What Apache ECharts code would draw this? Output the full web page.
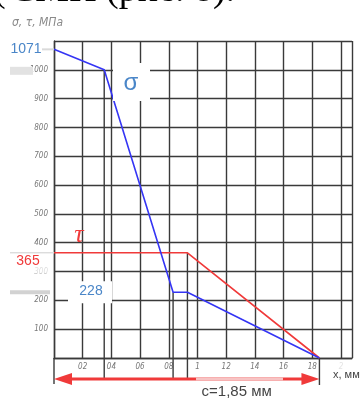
<!DOCTYPE html>
<html lang="ru">
<head>
<meta charset="UTF-8">
<title>σ, τ, МПа</title>
<style>body{margin:0;background:#fff;}</style>
</head>
<body>
<div id="main" style="width:363px;height:399px;"></div>
<script src="https://cdn.jsdelivr.net/npm/echarts@6/dist/echarts.min.js"></script>
<script>
// данные кривых
var sigmaX = [0, 0.35, 0.83, 0.93, 1.85];
var sigmaY = [1071, 1000, 228, 228, 0];
var tauX = [0, 0.93, 1.85];
var tauY = [365, 365, 0];
// подписи делений
var xTickValues = [0.2, 0.4, 0.6, 0.8, 1, 1.2, 1.4, 1.6, 1.8, 2];
var xTickLabels = ['02', '04', '06', '08', '1', '12', '14', '16', '18', '2'];
var yTickValues = [100, 200, 300, 400, 500, 600, 700, 800, 900, 1000];
// выноски
var dropX = [0.35, 0.83, 0.93, 1.85];
var dropY = [1000, 228, 365, 0];
var cLength = 1.85;

var gridColor = '#3a3a3a';
var blue = '#3535f4';
var red = '#f03a3a';
var labelBlue = '#4a86c8';

function pairs(xs, ys) {
    return xs.map(function (x, i) { return [x, ys[i]]; });
}

var myChart = echarts.init(document.getElementById('main'));

var option = {
    animation: false,
    grid: {left: 54, right: 11, top: 41, bottom: 41},
    xAxis: {
        type: 'value', min: 0, max: 2.077, interval: 0.2,
        axisLine: {show: true, lineStyle: {color: gridColor, width: 1.4}},
        axisTick: {show: false},
        splitLine: {show: true, lineStyle: {color: gridColor, width: 1.4}},
        axisLabel: {
            margin: 5, fontSize: 8, fontStyle: 'italic', color: '#777',
            fontFamily: '"Liberation Sans Narrow", "DejaVu Sans Condensed", sans-serif',
            showMaxLabel: false, showMinLabel: false,
            formatter: function (v) {
                var i = xTickValues.findIndex(function (t) { return Math.abs(t - v) < 1e-6; });
                if (i < 0) return '';
                if (xTickLabels[i] === '2') return '{f|2}';
                return xTickLabels[i];
            },
            rich: {f: {color: '#e4e4e4', fontSize: 8, fontStyle: 'italic'}}
        }
    },
    yAxis: {
        type: 'value', min: 0, max: 1100, interval: 100,
        axisLine: {show: true, lineStyle: {color: gridColor, width: 1.4}},
        axisTick: {show: false},
        splitLine: {show: true, lineStyle: {color: gridColor, width: 1.4}},
        axisLabel: {
            margin: 6, fontSize: 8, fontStyle: 'italic', color: '#777',
            fontFamily: '"Liberation Sans Narrow", "DejaVu Sans Condensed", sans-serif',
            formatter: function (v) {
                return yTickValues.indexOf(v) >= 0 ? String(v) : '';
            }
        }
    },
    series: [
        {
            name: 'σ', type: 'line', data: pairs(sigmaX, sigmaY),
            symbol: 'none', lineStyle: {color: blue, width: 1.6}, z: 5
        },
        {
            name: 'τ', type: 'line', data: pairs(tauX, tauY),
            symbol: 'none', lineStyle: {color: red, width: 1.6}, z: 4
        }
    ]
};

myChart.setOption(option);

// оформление поверх графика
function px(x, y) {
    return myChart.convertToPixel({gridIndex: 0}, [x, y]);
}
var g = [];
var x0 = px(0, 0);
var bottomY = 380;

// обрезанная строка текста сверху
g.push({type: 'text', left: -7, top: -28, z: 10,
    style: {text: '(', font: '38px "Liberation Serif"', fill: '#000'}});
g.push({type: 'text', left: 10, top: -28, z: 10,
    style: {text: 'СМП (рис. 8).', font: '38px "Liberation Serif"', fill: '#000'}});
g.push({type: 'text', left: 12, top: 17, z: 10,
    style: {text: 'σ, τ, МПа', font: 'italic 12px "Liberation Sans Narrow", "DejaVu Sans Condensed", sans-serif', fill: '#8a8a8a'}});

// вертикальные выноски
dropX.forEach(function (x, i) {
    var p = px(x, dropY[i]);
    g.push({type: 'line', z: 3, shape: {x1: p[0], y1: p[1], x2: p[0], y2: i === 3 ? 385 : bottomY},
        style: {stroke: gridColor, lineWidth: 1.4}});
});
g.push({type: 'line', z: 3, shape: {x1: x0[0], y1: x0[1], x2: x0[0], y2: bottomY + 4},
    style: {stroke: gridColor, lineWidth: 1.4}});

// 1071
var p1071 = px(0, sigmaY[0]);
g.push({type: 'line', z: 6, shape: {x1: 30, y1: p1071[1], x2: p1071[0], y2: p1071[1]},
    style: {stroke: '#dadada', lineWidth: 2}});
g.push({type: 'rect', z: 7, shape: {x: 0, y: p1071[1] - 8, width: 42, height: 15}, style: {fill: '#fff'}});
g.push({type: 'text', z: 8, x: 26, y: p1071[1], style: {text: String(sigmaY[0]), font: '14px Arial, sans-serif',
    fill: labelBlue, align: 'center', verticalAlign: 'middle'}});
// серая полоса у 1000
var p1000 = px(0, 1000);
g.push({type: 'rect', z: 6, shape: {x: 10, y: p1000[1] - 3, width: 23, height: 8}, style: {fill: '#e2e2e2'}});

// σ
g.push({type: 'rect', z: 7, shape: {x: 113, y: 63, width: 37, height: 38}, style: {fill: '#fff'}});
g.push({type: 'text', z: 8, x: 131, y: 83, style: {text: 'σ', font: '24px Arial, sans-serif',
    fill: labelBlue, align: 'center', verticalAlign: 'middle'}});

// τ
g.push({type: 'text', z: 8, x: 79, y: 235, style: {text: 'τ', font: 'italic 26px "Liberation Serif", serif',
    fill: red, align: 'center', verticalAlign: 'middle'}});

// 365
var p365 = px(0, tauY[0]);
g.push({type: 'line', z: 6, shape: {x1: 10, y1: p365[1], x2: p365[0], y2: p365[1]},
    style: {stroke: '#dcdcdc', lineWidth: 1.5}});
g.push({type: 'rect', z: 7, shape: {x: 10, y: p365[1] + 1, width: 43, height: 20}, style: {fill: 'rgba(255,255,255,0.75)'}});
g.push({type: 'text', z: 8, x: 28, y: p365[1] + 8, style: {text: String(tauY[0]), font: '14px Arial, sans-serif',
    fill: red, align: 'center', verticalAlign: 'middle'}});

// 228
var p228 = px(0, sigmaY[2]);
g.push({type: 'rect', z: 6, shape: {x: 10, y: p228[1] - 2, width: 40, height: 4}, style: {fill: '#d2d2d2'}});
g.push({type: 'rect', z: 7, shape: {x: 68, y: p228[1] - 11, width: 44, height: 22}, style: {fill: '#fff'}});
g.push({type: 'text', z: 8, x: 91, y: p228[1] - 1, style: {text: String(sigmaY[2]), font: '14px Arial, sans-serif',
    fill: labelBlue, align: 'center', verticalAlign: 'middle'}});

// стрелка c
var pc = px(cLength, 0);
var ay = 379;
g.push({type: 'line', z: 6, shape: {x1: x0[0] + 10, y1: ay, x2: pc[0] - 10, y2: ay},
    style: {stroke: red, lineWidth: 3}});
g.push({type: 'line', z: 6, shape: {x1: 196, y1: ay, x2: 283, y2: ay},
    style: {stroke: '#f7c4c4', lineWidth: 3}});
g.push({type: 'polygon', z: 6, shape: {points: [[x0[0], ay], [x0[0] + 18, ay - 6], [x0[0] + 18, ay + 6]]},
    style: {fill: red}});
g.push({type: 'polygon', z: 6, shape: {points: [[pc[0], ay], [pc[0] - 18, ay - 6], [pc[0] - 18, ay + 6]]},
    style: {fill: red}});
g.push({type: 'text', z: 8, x: (x0[0] + pc[0]) / 2 + 50, y: 392, style: {text: 'c=1,85 мм',
    font: '15px Arial, sans-serif', fill: '#444', align: 'center', verticalAlign: 'middle'}});
g.push({type: 'text', z: 8, x: 333, y: 375, style: {text: 'x, мм',
    font: '11px Arial, sans-serif', fill: '#444', verticalAlign: 'middle'}});

myChart.setOption({graphic: g});
</script>
</body>
</html>
